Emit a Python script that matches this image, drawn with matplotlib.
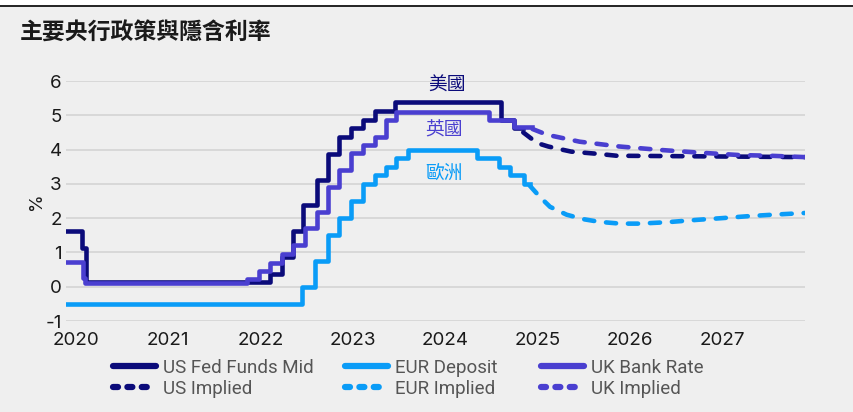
import matplotlib
matplotlib.use('Agg')
import matplotlib.pyplot as plt
import matplotlib.transforms as mtransforms
from matplotlib.lines import Line2D

plt.rcParams['axes.unicode_minus'] = False

# 數據 (由圖上讀取, 年份以小數表示)
us_t = [2020.0, 2020.17, 2020.22, 2022.21, 2022.34, 2022.46, 2022.57, 2022.72, 2022.84,
        2022.95, 2023.09, 2023.22, 2023.34, 2023.56, 2024.71, 2024.85, 2024.95]
us_v = [1.625, 1.125, 0.125, 0.375, 0.875, 1.625, 2.375, 3.125, 3.875,
        4.375, 4.625, 4.875, 5.125, 5.375, 4.875, 4.625, 4.625]

eur_t = [2020.0, 2022.55, 2022.70, 2022.84, 2022.96, 2023.09, 2023.21, 2023.35, 2023.46,
         2023.57, 2023.70, 2024.45, 2024.69, 2024.81, 2024.96, 2025.02]
eur_v = [-0.5, 0.0, 0.75, 1.5, 2.0, 2.5, 3.0, 3.25, 3.5,
         3.75, 4.0, 3.75, 3.5, 3.25, 3.0, 3.0]

uk_t = [2020.0, 2020.18, 2020.21, 2021.96, 2022.09, 2022.21, 2022.34, 2022.46, 2022.59,
        2022.72, 2022.84, 2022.95, 2023.08, 2023.22, 2023.35, 2023.46, 2023.57, 2024.58,
        2024.85, 2025.05]
uk_v = [0.71, 0.25, 0.10, 0.22, 0.46, 0.70, 0.95, 1.21, 1.70,
        2.19, 2.92, 3.41, 3.89, 4.14, 4.38, 4.87, 5.11, 4.87,
        4.65, 4.65]

us_imp_t = [2024.95, 2025.10, 2025.22, 2025.35, 2025.47, 2025.78, 2025.96, 2026.5, 2027.0, 2027.5, 2028.0]
us_imp_v = [4.50, 4.19, 4.09, 4.01, 3.94, 3.87, 3.82, 3.81, 3.80, 3.79, 3.78]

eur_imp_t = [2025.02, 2025.13, 2025.24, 2025.42, 2025.60, 2025.78, 2026.0, 2026.2, 2026.5,
             2026.83, 2027.1, 2027.4, 2027.65, 2028.0]
eur_imp_v = [2.95, 2.62, 2.33, 2.10, 1.97, 1.89, 1.84, 1.84, 1.88,
             1.95, 2.00, 2.06, 2.10, 2.15]

uk_imp_t = [2025.05, 2025.21, 2025.56, 2025.99, 2026.43, 2026.86, 2027.29, 2027.62, 2028.0]
uk_imp_v = [4.60, 4.43, 4.23, 4.09, 3.99, 3.91, 3.84, 3.82, 3.78]

years = [2020, 2021, 2022, 2023, 2024, 2025, 2026, 2027]
yticks = [-1, 0, 1, 2, 3, 4, 5, 6]

c_us = '#0b0b7a'
c_eur = '#0a9cf7'
c_uk = '#4a3fd0'
bg = '#efefef'
lw = 3.3
dash = (2.2, 2.6)

fig = plt.figure(figsize=(8.54, 4.12), dpi=100, facecolor=bg)
# 頂部白邊和黑線
fig.patches.append(plt.Rectangle((0, 1 - 5/412), 1, 5/412, transform=fig.transFigure,
                                 facecolor='white', edgecolor='none'))
fig.add_artist(Line2D([0, 1], [1 - 5.5/412, 1 - 5.5/412], transform=fig.transFigure,
                      color='black', lw=1.2))

ax = fig.add_axes([66/854, 1 - 321/412, (805 - 66)/854, (321 - 81)/412])
ax.set_facecolor(bg)

# 實際利率 (階梯)
ax.plot(us_t + [us_t[-1]], us_v + [us_v[-1]], drawstyle='steps-post', color=c_us, lw=lw)
ax.plot(eur_t, eur_v, drawstyle='steps-post', color=c_eur, lw=lw)
ax.plot(uk_t, uk_v, drawstyle='steps-post', color=c_uk, lw=lw)

# 隱含利率 (虛線)
for t, v, c in [(us_imp_t, us_imp_v, c_us), (eur_imp_t, eur_imp_v, c_eur), (uk_imp_t, uk_imp_v, c_uk)]:
    ax.plot(t, v, color=c, lw=lw, dashes=dash, dash_capstyle='round', solid_capstyle='round')

ax.set_xlim(2020, 2028)
ax.set_ylim(-1, 6)
ax.set_yticks(yticks)
ax.set_xticks(years)
ax.set_xticklabels([str(y) for y in years])
ax.grid(axis='y', color='#d6d6d6', lw=1.3)
ax.set_axisbelow(True)
for s in ax.spines.values():
    s.set_visible(False)
ax.tick_params(length=0, labelsize=13.5, colors='#1a1a1a')
ax.tick_params(axis='x', pad=8)
ax.tick_params(axis='y', pad=3)
for lab in ax.get_xticklabels() + ax.get_yticklabels():
    lab.set_fontfamily('Inter')
off = mtransforms.ScaledTranslation(10/100, 0, fig.dpi_scale_trans)
for lab in ax.get_xticklabels():
    lab.set_transform(lab.get_transform() + off)

ax.set_ylabel('%', fontsize=13, color='#1a1a1a', family='Inter', labelpad=0)

cjk = ['Noto Sans CJK TC', 'DejaVu Sans']
ax.text(2024.12, 5.89, '美國', color=c_us, fontsize=13.5, family=cjk, ha='center', va='center')
ax.text(2024.09, 4.58, '英國', color=c_uk, fontsize=13.5, family=cjk, ha='center', va='center')
ax.text(2024.09, 3.32, '歐洲', color=c_eur, fontsize=13.5, family=cjk, ha='center', va='center')

fig.text(20/854, 1 - 33/412, '主要央行政策與隱含利率', fontsize=16.5, fontweight='bold',
         family=cjk, color='#1a1a1a', va='center', ha='left')

# 圖例 (三欄分開放)
hd = (0.8, 1.5)
cols = [
    (113, c_us, ['US Fed Funds Mid', 'US Implied']),
    (345, c_eur, ['EUR Deposit', 'EUR Implied']),
    (541, c_uk, ['UK Bank Rate', 'UK Implied']),
]
for x0, c, labs in cols:
    hs = [Line2D([], [], color=c, lw=4.5, solid_capstyle='round'),
          Line2D([], [], color=c, lw=4.5, dashes=hd, dash_capstyle='round')]
    leg = fig.legend(hs, labs, loc='upper left', bbox_to_anchor=(x0/854, 1 - 359/412),
                     frameon=False, handlelength=2.3, handletextpad=0.35,
                     labelspacing=0.15, borderpad=0, borderaxespad=0,
                     prop={'family': 'Roboto', 'size': 13.5})
    for t in leg.get_texts():
        t.set_color('#555555')

fig.savefig('out.png', dpi=100, facecolor=bg)
